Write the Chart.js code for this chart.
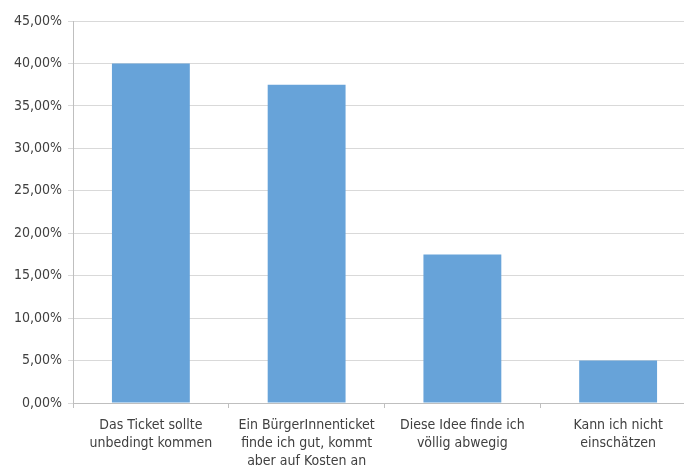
<!DOCTYPE html>
<html>
<head>
<meta charset="utf-8">
<script src="https://cdn.jsdelivr.net/npm/chart.js@4/dist/chart.umd.min.js"></script>
<style>
  html, body { margin: 0; padding: 0; background: #fff; overflow: hidden; }
  #wrap { position: relative; width: 696px; height: 467px; }
</style>
</head>
<body>
<div id="wrap"><canvas id="canvas"></canvas></div>
<script>
// answers (share of respondents)
let labels = [
  ['Das Ticket sollte', 'unbedingt kommen'],
  ['Ein BürgerInnenticket', 'finde ich gut, kommt', 'aber auf Kosten an'],
  ['Diese Idee finde ich', 'völlig abwegig'],
  ['Kann ich nicht', 'einschätzen']
];
let data = [40, 37.5, 17.5, 5];
let yTicks = [0, 5, 10, 15, 20, 25, 30, 35, 40, 45];

let font = { family: "'Liberation Sans Narrow', 'DejaVu Sans Condensed', sans-serif", size: 14, lineHeight: 1.3 };

let options = {
  type: 'bar',
  data: {
    labels: labels,
    datasets: [{
      data: data,
      backgroundColor: '#67a3d9',
      borderWidth: 0,
      categoryPercentage: 1.0,
      barPercentage: 0.5
    }]
  },
  options: {
    responsive: true,
    maintainAspectRatio: false,
    animation: false,
    layout: { padding: { top: 21, right: 0, left: 0, bottom: 0 } },
    plugins: {
      legend: { display: false },
      tooltip: { enabled: false }
    },
    scales: {
      x: {
        grid: { display: true, drawOnChartArea: false, tickLength: 5, color: '#bfbfbf', offset: true },
        border: { color: '#bfbfbf' },
        ticks: { color: '#404040', font: font, maxRotation: 0, autoSkip: false, padding: 8 },
        afterFit: function(scale) { scale.height = 64; }
      },
      y: {
        min: 0,
        max: 45,
        afterBuildTicks: function(scale) { scale.ticks = yTicks.map(v => ({ value: v })); },
        grid: { color: '#d9d9d9', tickLength: 5 },
        border: { color: '#bfbfbf' },
        ticks: {
          color: '#404040',
          font: font,
          padding: 6,
          callback: v => v.toFixed(2).replace('.', ',') + '%'
        },
        afterFit: function(scale) { scale.width = 73; }
      }
    }
  }
};

let chart = new Chart(document.getElementById('canvas'), options);
</script>
</body>
</html>
